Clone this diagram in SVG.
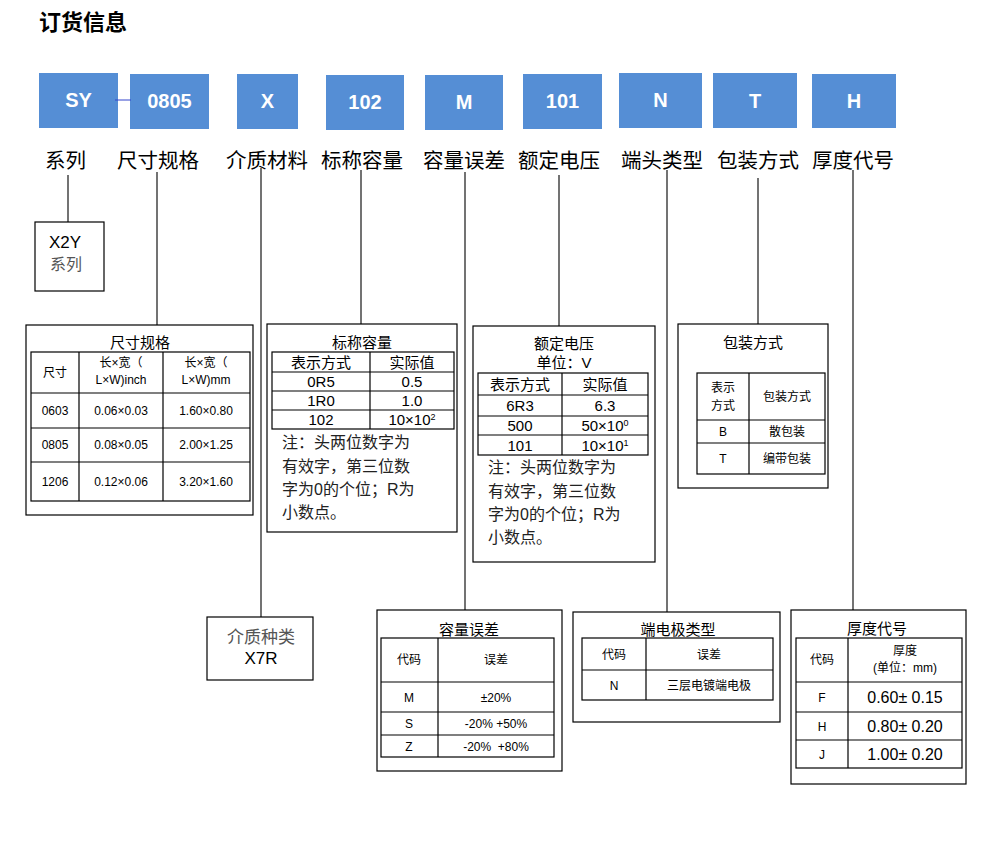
<svg xmlns="http://www.w3.org/2000/svg" width="1000" height="850" viewBox="0 0 1000 850">
<style>
text{font-family:"Liberation Sans","Noto Sans CJK SC",sans-serif;fill:#000}
.title{font-size:22px;font-weight:bold}
.code rect{fill:#558ED5}
.code text{fill:#fff;font-size:20px;font-weight:bold;text-anchor:middle}
.lbl{font-size:20.5px}
.conn line{stroke:#444;stroke-width:1.5}
.box{fill:#fff;stroke:#000;stroke-width:1.2}
.tb{fill:none;stroke:#000;stroke-width:1.2}
.t15{font-size:15px;text-anchor:middle}
.t12{font-size:12px;text-anchor:middle}
.t16{font-size:16px;text-anchor:middle}
.note{font-size:16px;fill:#222}
.gray{fill:#555}
</style>
<rect width="1000" height="850" fill="#fff"/>
<text class="title" x="39" y="30">订货信息</text>

<g id="codes" class="code">
<g id="c-sy"><rect x="39" y="73" width="79" height="55"/><text x="78.5" y="107">SY</text></g>
<g id="c-0805"><rect x="130" y="74" width="79" height="55"/><text x="169.5" y="108">0805</text></g>
<g id="c-x"><rect x="237" y="74" width="61" height="55"/><text x="267.5" y="108">X</text></g>
<g id="c-102"><rect x="326" y="75" width="78" height="55"/><text x="365" y="109">102</text></g>
<g id="c-m"><rect x="425" y="75" width="78" height="55"/><text x="464" y="109">M</text></g>
<g id="c-101"><rect x="523" y="74" width="79" height="55"/><text x="562.5" y="108">101</text></g>
<g id="c-n"><rect x="619" y="73" width="83" height="55"/><text x="660.5" y="107">N</text></g>
<g id="c-t"><rect x="713" y="73" width="84" height="55"/><text x="755" y="108">T</text></g>
<g id="c-h"><rect x="812" y="74" width="84" height="54"/><text x="854" y="108">H</text></g>
</g>

<g id="labels" class="lbl">
<text x="45" y="168">系列</text>
<text x="117" y="168">尺寸规格</text>
<text x="226" y="168">介质材料</text>
<text x="321" y="168">标称容量</text>
<text x="423" y="168">容量误差</text>
<text x="518" y="168">额定电压</text>
<text x="621" y="168">端头类型</text>
<text x="717" y="168">包装方式</text>
<text x="812" y="168">厚度代号</text>
</g>

<g id="connectors" class="conn">
<line x1="115" y1="100" x2="131" y2="100" style="stroke:#3344cc;stroke-width:1"/>
<line x1="68" y1="175" x2="68" y2="222"/>
<line x1="157" y1="172" x2="157" y2="325"/>
<line x1="261" y1="168" x2="261" y2="617"/>
<line x1="361" y1="170" x2="361" y2="324"/>
<line x1="465" y1="172" x2="465" y2="610"/>
<line x1="559" y1="175" x2="559" y2="326"/>
<line x1="667" y1="170" x2="667" y2="612"/>
<line x1="758" y1="178" x2="758" y2="324"/>
<line x1="853" y1="170" x2="853" y2="610"/>
</g>

<g id="n-series">
<rect class="box" x="35" y="222" width="69" height="69"/>
<text x="49" y="248" style="font-size:17px">X2Y</text>
<text x="50" y="270" class="gray" style="font-size:16px">系列</text>
</g>

<g id="n-size">
<rect class="box" x="26" y="325" width="227" height="190"/>
<text class="t15" x="140" y="348">尺寸规格</text>
<rect class="tb" x="31" y="352" width="219" height="149"/>
<path class="tb" d="M79 352V501M163 352V501M31 393H250M31 428H250M31 462H250"/>
<text class="t12" x="55" y="377">尺寸</text>
<text class="t12" x="121" y="367">长×宽（</text>
<text class="t12" x="121" y="384">L×W)inch</text>
<text class="t12" x="206" y="367">长×宽（</text>
<text class="t12" x="206" y="384">L×W)mm</text>
<text class="t12" x="55" y="415">0603</text><text class="t12" x="121" y="415">0.06×0.03</text><text class="t12" x="206" y="415">1.60×0.80</text>
<text class="t12" x="55" y="449">0805</text><text class="t12" x="121" y="449">0.08×0.05</text><text class="t12" x="206" y="449">2.00×1.25</text>
<text class="t12" x="55" y="486">1206</text><text class="t12" x="121" y="486">0.12×0.06</text><text class="t12" x="206" y="486">3.20×1.60</text>
</g>

<g id="n-cap">
<rect class="box" x="267" y="324" width="190" height="208"/>
<text class="t15" x="362" y="348">标称容量</text>
<rect class="tb" x="272" y="352" width="182" height="77"/>
<path class="tb" d="M370 352V429M272 372H454M272 391H454M272 410H454"/>
<text class="t15" x="321" y="368">表示方式</text><text class="t15" x="412" y="368">实际值</text>
<text class="t15" x="321" y="387">0R5</text><text class="t15" x="412" y="387">0.5</text>
<text class="t15" x="321" y="406">1R0</text><text class="t15" x="412" y="406">1.0</text>
<text class="t15" x="321" y="425">102</text><text class="t15" x="412" y="425">10×10<tspan dy="-5" style="font-size:9px">2</tspan></text>
<text class="note" x="282" y="448">注：头两位数字为</text>
<text class="note" x="282" y="472">有效字，第三位数</text>
<text class="note" x="282" y="495">字为0的个位；R为</text>
<text class="note" x="282" y="518">小数点。</text>
</g>

<g id="n-volt">
<rect class="box" x="473" y="326" width="182" height="236"/>
<text class="t15" x="564" y="349">额定电压</text>
<text class="t15" x="564" y="368">单位：V</text>
<rect class="tb" x="478" y="373" width="170" height="82"/>
<path class="tb" d="M562 373V455M478 395H648M478 416H648M478 435H648"/>
<text class="t15" x="520" y="390">表示方式</text><text class="t15" x="605" y="390">实际值</text>
<text class="t15" x="520" y="411">6R3</text><text class="t15" x="605" y="411">6.3</text>
<text class="t15" x="520" y="431">500</text><text class="t15" x="605" y="431">50×10<tspan dy="-5" style="font-size:9px">0</tspan></text>
<text class="t15" x="520" y="451">101</text><text class="t15" x="605" y="451">10×10<tspan dy="-5" style="font-size:9px">1</tspan></text>
<text class="note" x="488" y="473">注：头两位数字为</text>
<text class="note" x="488" y="497">有效字，第三位数</text>
<text class="note" x="488" y="520">字为0的个位；R为</text>
<text class="note" x="488" y="543">小数点。</text>
</g>

<g id="n-pack">
<rect class="box" x="678" y="324" width="150" height="164"/>
<text class="t15" x="753" y="348">包装方式</text>
<rect class="tb" x="697" y="373" width="128" height="101"/>
<path class="tb" d="M749 373V474M697 420H825M697 443H825"/>
<text class="t12" x="723" y="392">表示</text>
<text class="t12" x="723" y="410">方式</text>
<text class="t12" x="787" y="401">包装方式</text>
<text class="t12" x="723" y="436">B</text><text class="t12" x="787" y="436">散包装</text>
<text class="t12" x="723" y="463">T</text><text class="t12" x="787" y="463">编带包装</text>
</g>

<g id="n-diel">
<rect class="box" x="207" y="617" width="106" height="63"/>
<text class="gray" x="261" y="643" style="font-size:17px;text-anchor:middle">介质种类</text>
<text x="261" y="664" style="font-size:17px;text-anchor:middle">X7R</text>
</g>

<g id="n-tol">
<rect class="box" x="377" y="610" width="185" height="161"/>
<text class="t15" x="469" y="635">容量误差</text>
<rect class="tb" x="381" y="638" width="173" height="119"/>
<path class="tb" d="M438 638V757M381 682H554M381 712H554M381 735H554"/>
<text class="t12" x="409" y="664">代码</text><text class="t12" x="496" y="664">误差</text>
<text class="t12" x="409" y="702">M</text><text class="t12" x="496" y="702">±20%</text>
<text class="t12" x="409" y="728">S</text><text class="t12" x="496" y="728">-20% +50%</text>
<text class="t12" x="409" y="751">Z</text><text class="t12" x="496" y="751">-20%&#160; +80%</text>
</g>

<g id="n-term">
<rect class="box" x="573" y="612" width="207" height="110"/>
<text class="t15" x="678" y="635">端电极类型</text>
<rect class="tb" x="582" y="638" width="191" height="62"/>
<path class="tb" d="M646 638V700M582 670H773"/>
<text class="t12" x="614" y="659">代码</text><text class="t12" x="709" y="659">误差</text>
<text class="t12" x="614" y="690">N</text><text class="t12" x="709" y="690">三层电镀端电极</text>
</g>

<g id="n-thick">
<rect class="box" x="791" y="610" width="175" height="174"/>
<text class="t15" x="877" y="634">厚度代号</text>
<rect class="tb" x="796" y="638" width="166" height="130"/>
<path class="tb" d="M848 638V768M796 682H962M796 712H962M796 740H962"/>
<text class="t12" x="822" y="664">代码</text>
<text class="t12" x="905" y="655">厚度</text>
<text class="t12" x="905" y="672">(单位：mm)</text>
<text class="t12" x="822" y="702">F</text><text class="t16" x="905" y="703">0.60± 0.15</text>
<text class="t12" x="822" y="731">H</text><text class="t16" x="905" y="732">0.80± 0.20</text>
<text class="t12" x="822" y="759">J</text><text class="t16" x="905" y="760">1.00± 0.20</text>
</g>
</svg>
